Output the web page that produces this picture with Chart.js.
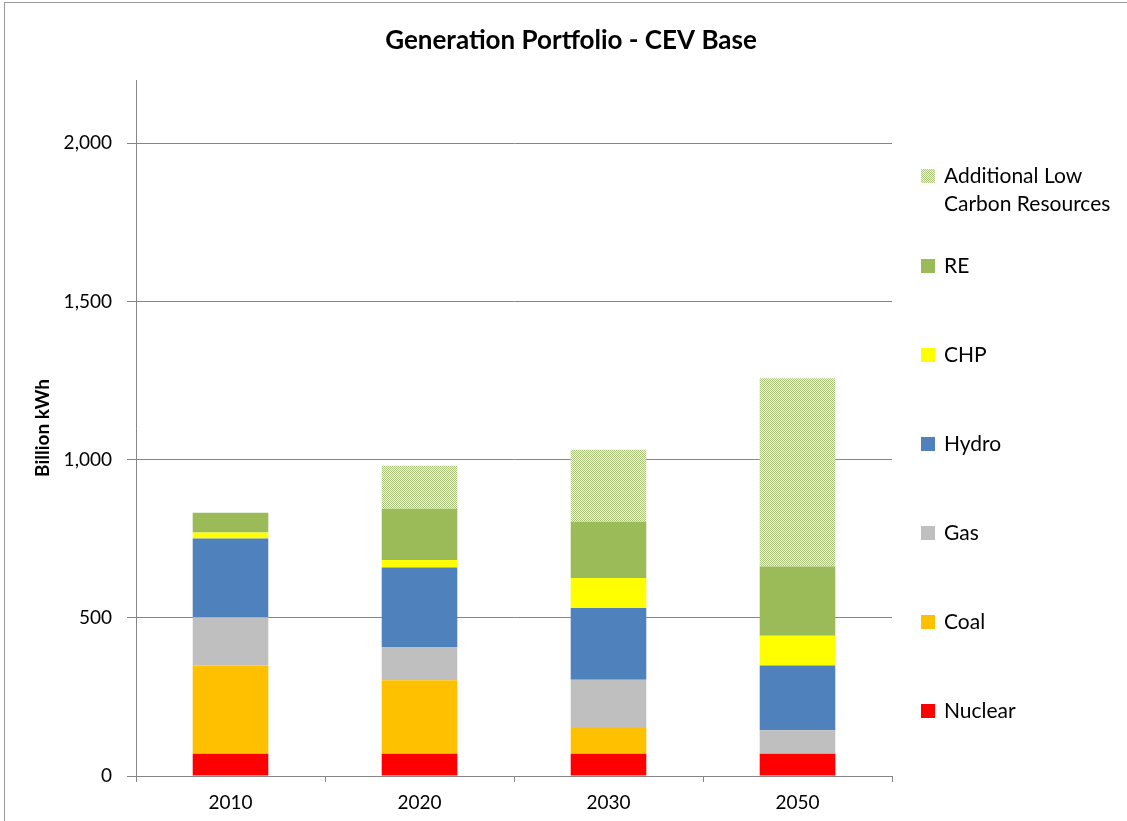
<!DOCTYPE html>
<html>
<head>
<meta charset="utf-8">
<script src="https://cdn.jsdelivr.net/npm/chart.js@4.4.1/dist/chart.umd.min.js"></script>
<style>
  html, body { margin: 0; padding: 0; background: #fff; }
  #wrap { position: relative; width: 1127px; height: 821px; }
  #wrap::before { content: ""; position: absolute; left: 4px; top: 2px; right: 0; bottom: 0;
    border-top: 1px solid #999; border-left: 1px solid #999; pointer-events: none; }
</style>
</head>
<body>
<div id="wrap"><canvas id="c" width="1127" height="821"></canvas></div>
<script>
// data (billion kWh)
const years = ["2010", "2020", "2030", "2050"];
const seriesNames = ["Nuclear", "Coal", "Gas", "Hydro", "CHP", "RE", "Additional Low Carbon Resources"];
const nuclear = [70, 70, 70, 70];
const coal = [279, 233, 82, 0];
const gas = [153, 105, 152, 75];
const hydro = [249, 251, 227, 204];
const chp = [19, 24, 95, 94];
const re = [62, 162, 178, 219];
const additional = [0, 136, 227, 595];
const yTicks = [0, 500, 1000, 1500, 2000];
const yMax = 2200;

const FONT = "Lato, 'Open Sans', sans-serif";

// dotted fill for the "additional" series
function makePattern() {
  const p = document.createElement("canvas");
  p.width = 2; p.height = 2;
  const g = p.getContext("2d");
  g.fillStyle = "#f4f7ec";
  g.fillRect(0, 0, 2, 2);
  g.fillStyle = "#a9c27a";
  g.fillRect(0, 0, 1, 1);
  g.fillRect(1, 1, 1, 1);
  return g.createPattern(p, "repeat");
}
const hatch = makePattern();

const colors = ["#ff0000", "#ffc000", "#bfbfbf", "#4f81bd", "#ffff00", "#9bbb59", hatch];
const values = [nuclear, coal, gas, hydro, chp, re, additional];

const datasets = values.map((v, i) => ({
  label: seriesNames[i],
  data: v,
  backgroundColor: colors[i],
  borderWidth: 0,
  stack: "s"
}));

// title + right-hand legend drawn by hand (legend has large vertical gaps, wrapped label)
const decor = {
  id: "decor",
  afterDraw(chart) {
    const ctx = chart.ctx;
    ctx.save();
    ctx.fillStyle = "#000";
    ctx.font = "bold 26px " + FONT;
    ctx.textAlign = "center";
    ctx.textBaseline = "middle";
    ctx.fillText("Generation Portfolio - CEV Base", 571, 41);

    ctx.font = "21px " + FONT;
    ctx.textAlign = "left";
    const lines = {6: ["Additional Low", "Carbon Resources"]};
    let y = 176;
    for (let i = datasets.length - 1; i >= 0; i--) {
      ctx.fillStyle = datasets[i].backgroundColor;
      ctx.fillRect(921, y - 7, 14, 14);
      ctx.fillStyle = "#000";
      const txt = lines[i] || [datasets[i].label];
      txt.forEach((t, k) => ctx.fillText(t, 944, y + k * 28));
      y += (i === 6) ? 90 : 89;
    }
    ctx.restore();
  }
};

new Chart(document.getElementById("c"), {
  type: "bar",
  data: { labels: years, datasets: datasets },
  options: {
    responsive: false,
    animation: false,
    layout: { padding: { top: 80, right: 235, left: 0, bottom: 0 } },
    plugins: {
      legend: { display: false },
      tooltip: { enabled: false },
      title: { display: false }
    },
    datasets: { bar: { categoryPercentage: 1, barPercentage: 0.4 } },
    scales: {
      x: {
        stacked: true,
        afterFit(s) { s.height = 45; },
        grid: { offset: true, drawOnChartArea: false, tickLength: 6, color: "#868686" },
        border: { color: "#868686" },
        ticks: { color: "#000", font: { family: FONT, size: 19 }, padding: 9 }
      },
      y: {
        stacked: true,
        min: 0,
        max: yMax,
        afterFit(s) { s.width = 136; },
        afterBuildTicks(s) { s.ticks = yTicks.map(v => ({ value: v })); },
        border: { color: "#868686" },
        grid: { color: "#868686", tickLength: 9 },
        ticks: {
          color: "#000",
          padding: 15,
          font: { family: FONT, size: 19 },
          callback: v => v.toLocaleString("en-US")
        },
        title: {
          display: true,
          text: "Billion kWh",
          color: "#000",
          font: { family: FONT, size: 19, weight: "bold" },
          padding: { top: 31, bottom: 0 }
        }
      }
    }
  },
  plugins: [decor]
});
</script>
</body>
</html>
